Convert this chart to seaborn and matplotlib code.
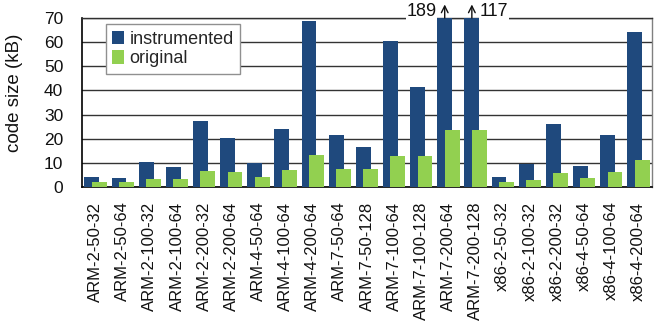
import numpy as np
import pandas as pd
import matplotlib
matplotlib.use("Agg")
import matplotlib.pyplot as plt
import seaborn as sns

configs = [
    "ARM-2-50-32", "ARM-2-50-64", "ARM-2-100-32", "ARM-2-100-64",
    "ARM-2-200-32", "ARM-2-200-64", "ARM-4-50-64", "ARM-4-100-64",
    "ARM-4-200-64", "ARM-7-50-64", "ARM-7-50-128", "ARM-7-100-64",
    "ARM-7-100-128", "ARM-7-200-64", "ARM-7-200-128", "x86-2-50-32",
    "x86-2-100-32", "x86-2-200-32", "x86-4-50-64", "x86-4-100-64",
    "x86-4-200-64",
]
instrumented = [4.3, 3.9, 10.5, 8.4, 27.5, 20.4, 9.8, 24.2, 68.9, 21.5, 16.7,
                60.6, 41.6, 189, 117, 4.0, 9.7, 26.1, 8.6, 21.7, 64.1]
original = [2.1, 2.1, 3.5, 3.5, 6.5, 6.4, 4.1, 7.2, 13.4, 7.3, 7.3,
            12.7, 12.7, 23.7, 23.7, 1.9, 3.0, 5.8, 3.6, 6.2, 11.3]
y_ticks = [0, 10, 20, 30, 40, 50, 60, 70]
y_max = 70

BLUE = "#1F497D"
GREEN = "#92D050"
INK = "#111111"

sns.set_theme(style="white")
plt.rcParams["font.family"] = ["Liberation Sans", "DejaVu Sans"]

idx = np.arange(len(configs))
offset = 0.137
df_i = pd.DataFrame({"pos": idx - offset, "size": instrumented})
df_o = pd.DataFrame({"pos": idx + offset, "size": original})

fig = plt.figure(figsize=(6.58, 3.26), dpi=100)
ax = fig.add_axes([82 / 658, 1 - 187 / 326, 570 / 658, 169 / 326])

sns.barplot(data=df_i, x="pos", y="size", native_scale=True, width=0.55,
            color=BLUE, saturation=1, edgecolor="none", ax=ax,
            label="instrumented", zorder=3)
sns.barplot(data=df_o, x="pos", y="size", native_scale=True, width=0.55,
            color=GREEN, saturation=1, edgecolor="none", ax=ax,
            label="original", zorder=4)

ax.set_xlim(-0.5, len(configs) - 0.5)
ax.set_ylim(0, y_max)
ax.set_xticks(idx)
ax.set_xticklabels(configs, rotation=90, fontsize=12, color=INK)
ax.set_yticks(y_ticks)
ax.set_yticklabels([str(t) for t in y_ticks], fontsize=12.5, color=INK)
ax.tick_params(axis="y", length=0, pad=13.5)
ax.tick_params(axis="x", length=0, pad=10.5)
ax.set_xlabel("")
ax.set_ylabel("code size (kB)", fontsize=13.5, color=INK)
ax.yaxis.set_label_coords(-0.1035, 0.56)

ax.grid(axis="y", color="#333333", linewidth=1.0, zorder=0)
ax.set_axisbelow(True)
for side in ("left", "bottom"):
    ax.spines[side].set_color("#000000")
    ax.spines[side].set_linewidth(1.2)
ax.spines["top"].set_color("#303030")
ax.spines["top"].set_linewidth(1.0)
ax.spines["right"].set_color("#808080")
ax.spines["right"].set_linewidth(1.0)

# values of the bars that run past the top of the axis
for i in idx:
    if instrumented[i] > y_max:
        x = i - offset
        ax.annotate("", xy=(x, y_max + 5.6), xytext=(x, y_max),
                    arrowprops=dict(arrowstyle="->", color=INK, lw=1.0,
                                    shrinkA=0, shrinkB=0),
                    annotation_clip=False, zorder=6)
        left = i == 13
        ax.text(x - 0.3 if left else x + 0.3, y_max + 2.8, f"{instrumented[i]:g}",
                ha="right" if left else "left", va="center", fontsize=13,
                color=INK, clip_on=False, zorder=7,
                bbox=dict(facecolor="white", edgecolor="none", pad=0.6))

leg = ax.legend(loc="upper left", bbox_to_anchor=(0.042, 0.963), fontsize=13,
                frameon=True, fancybox=False, framealpha=1, edgecolor="#909090",
                handlelength=0.65, handleheight=0.75, handletextpad=0.3,
                labelspacing=0.15, borderpad=0.35, borderaxespad=0)
leg.get_frame().set_linewidth(1.0)
leg.set_zorder(8)

fig.savefig("out.png", dpi=100)
